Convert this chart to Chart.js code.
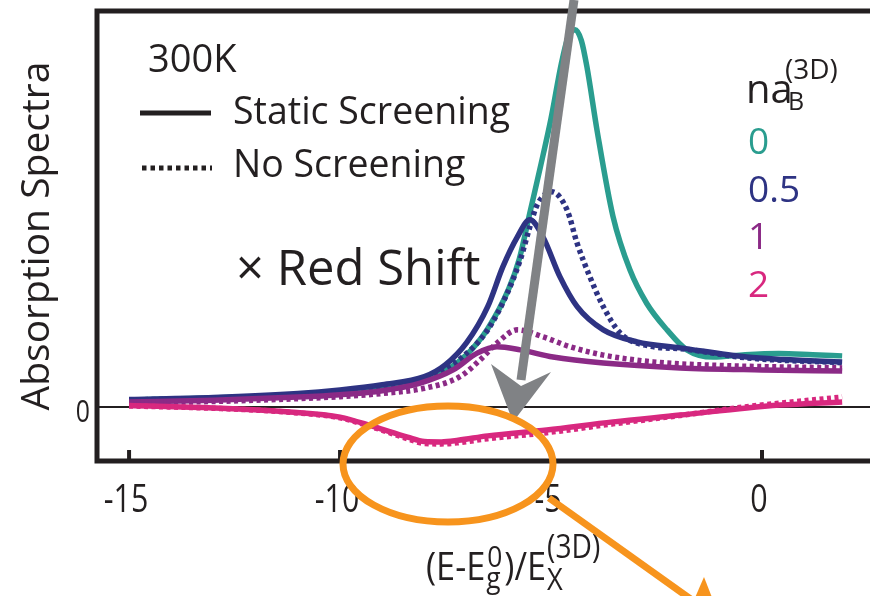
<!DOCTYPE html>
<html>
<head>
<meta charset="utf-8">
<script src="https://cdn.jsdelivr.net/npm/chart.js"></script>
<style>
  html, body { margin: 0; padding: 0; background: #fff; }
  #wrap { width: 870px; height: 596px; }
</style>
</head>
<body>
<div id="wrap"><canvas id="absChart" width="870" height="596"></canvas></div>
<script>
// x = (E - Eg0) / Ex(3D), y = absorption (arb. units)
const xTicks = [-15, -10, -5, 0];
const yTicks = [0];
const densityLabels = ['0', '0.5', '1', '2'];

// na_B = 0
const n0X = [-15, -13, -11, -10, -9, -8, -7.5, -7, -6.5, -6, -5.75, -5.5, -5.25, -5, -4.75, -4.6, -4.43, -4.28, -4.15, -3.9, -3.53, -3.13, -2.73, -2.25, -1.78, -1.16, -0.4, 0.4, 1.2, 1.9];
const n0Static = [0.17, 0.22, 0.3, 0.38, 0.5, 0.7, 0.9, 1.3, 1.95, 2.95, 3.7, 4.85, 6.0, 7.2, 8.6, 9.22, 9.42, 9.15, 8.5, 6.85, 4.75, 3.42, 2.58, 1.92, 1.42, 1.24, 1.3, 1.33, 1.3, 1.27];

// na_B = 0.5
const n05StaticX = [-15, -13, -11, -10, -9, -8, -7.5, -7, -6.5, -6.14, -5.8, -5.5, -5.19, -4.79, -4.38, -3.76, -2.96, -1.94, -0.36, 0.5, 1.9];
const n05Static = [0.18, 0.23, 0.33, 0.42, 0.55, 0.75, 1.05, 1.6, 2.5, 3.5, 4.24, 4.67, 4.24, 3.25, 2.5, 1.92, 1.62, 1.47, 1.24, 1.18, 1.12];
const n05NoneX = [-15, -13, -11, -10, -9, -8, -7.7, -7.1, -6.5, -6.04, -5.73, -5.5, -5.33, -4.98, -4.62, -4.38, -4.08, -3.76, -3.36, -2.58, -1.94, -0.36, 1.9];
const n05None = [0.17, 0.21, 0.3, 0.37, 0.48, 0.65, 0.84, 1.24, 1.92, 2.83, 3.67, 4.5, 5.04, 5.37, 4.92, 4.08, 3.25, 2.5, 1.84, 1.5, 1.45, 1.22, 1.1];

// na_B = 1
const n1StaticX = [-15, -13, -11, -10, -9, -8.1, -7.32, -6.75, -6.28, -5.73, -4.95, -3.76, -1.94, 0, 1.9];
const n1Static = [0.12, 0.16, 0.24, 0.3, 0.4, 0.59, 0.92, 1.34, 1.5, 1.42, 1.24, 1.09, 0.97, 0.92, 0.89];
const n1NoneX = [-15, -13, -11, -10, -9, -8, -7.16, -6.68, -6.28, -5.8, -5.2, -4.55, -3.76, -2.58, -1, 1.9];
const n1None = [0.1, 0.13, 0.2, 0.25, 0.33, 0.46, 0.75, 1.17, 1.59, 1.92, 1.75, 1.5, 1.29, 1.12, 1.03, 0.97];

// na_B = 2
const n2X = [-15, -13, -11.2, -10, -9.2, -8.4, -8.0, -7.6, -7.2, -6.5, -5.1, -3.53, -1.94, -0.36, 0.43, 1.9];
const n2Static = [0.03, -0.03, -0.13, -0.26, -0.5, -0.76, -0.87, -0.88, -0.84, -0.73, -0.58, -0.38, -0.21, -0.03, 0.04, 0.12];
const n2None = [0.02, -0.04, -0.14, -0.28, -0.52, -0.8, -0.92, -0.93, -0.9, -0.8, -0.65, -0.43, -0.22, 0.0, 0.09, 0.24];

const teal = '#2a9d8f';
const navy = '#2e3383';
const purple = '#8b2a86';
const pink = '#d8287f';
const ink = '#231f20';
const textFont = "'Open Sans', sans-serif";

const pts = (xs, ys) => xs.map((x, i) => ({ x: x, y: ys[i] }));

function curve(data, color, dotted, order) {
    return {
        data: data,
        borderColor: color,
        borderWidth: 5.5,
        borderDash: dotted ? [4, 3.5] : [],
        borderCapStyle: 'butt',
        pointRadius: 0,
        cubicInterpolationMode: 'monotone',
        fill: false,
        order: order
    };
}

// horizontally squeezed text, returns drawn width
function narrowText(ctx, text, x, y, size, align, squeeze) {
    ctx.save();
    ctx.font = size + 'px ' + textFont;
    const w = ctx.measureText(text).width * squeeze;
    const left = align === 'center' ? x - w / 2 : align === 'right' ? x - w : x;
    ctx.translate(left, y);
    ctx.scale(squeeze, 1);
    ctx.textAlign = 'left';
    ctx.textBaseline = 'alphabetic';
    ctx.fillText(text, 0, 0);
    ctx.restore();
    return w;
}

// frame, inside ticks, legend texts and the hand-drawn markings
const overlay = {
    id: 'overlay',
    afterDatasetsDraw(chart) {
        const { ctx, chartArea: a } = chart;
        const xs = chart.scales.x;
        const ys = chart.scales.y;
        ctx.save();

        ctx.strokeStyle = ink;
        ctx.lineWidth = 5;
        ctx.lineCap = 'butt';
        ctx.beginPath();
        ctx.moveTo(chart.width + 5, a.top);
        ctx.lineTo(a.left, a.top);
        ctx.lineTo(a.left, a.bottom);
        ctx.lineTo(chart.width + 5, a.bottom);
        ctx.stroke();

        // tick marks point inward, labels are condensed
        ctx.lineWidth = 4;
        ctx.fillStyle = ink;
        xs.ticks.forEach(t => {
            const px = xs.getPixelForValue(t.value);
            ctx.beginPath();
            ctx.moveTo(px, a.bottom);
            ctx.lineTo(px, a.bottom - 11);
            ctx.stroke();
            narrowText(ctx, String(t.value), px - 3, 512, 38, 'center', 0.8);
        });
        ys.ticks.forEach(t => {
            narrowText(ctx, String(t.value), 90, ys.getPixelForValue(t.value) + 15, 31, 'right', 0.8);
        });

        // x axis title
        const sq = 0.88;
        let cx = 426;
        cx += narrowText(ctx, '(E-E', cx, 580, 39, 'left', sq);
        const wg = narrowText(ctx, 'g', cx + 1, 588, 30, 'left', sq);
        narrowText(ctx, '0', cx + 2, 567, 30, 'left', sq);
        cx += Math.max(wg, 17) + 2;
        cx += narrowText(ctx, ')/E', cx, 580, 39, 'left', sq);
        narrowText(ctx, 'X', cx + 1, 590, 31, 'left', sq);
        narrowText(ctx, '(3D)', cx + 1, 558, 32, 'left', sq);

        // legend
        ctx.textBaseline = 'alphabetic';
        ctx.textAlign = 'left';
        ctx.font = '38px ' + textFont;
        ctx.fillText('300K', 148, 72);
        ctx.font = '37.5px ' + textFont;
        ctx.fillText('Static Screening', 233, 124);
        ctx.fillText('No Screening', 233, 177);
        ctx.beginPath();
        ctx.lineWidth = 5;
        ctx.moveTo(140, 113);
        ctx.lineTo(211, 113);
        ctx.stroke();
        ctx.setLineDash([4.5, 4]);
        ctx.beginPath();
        ctx.moveTo(142, 168);
        ctx.lineTo(212, 168);
        ctx.stroke();
        ctx.setLineDash([]);

        ctx.font = '49px ' + textFont;
        ctx.fillText('\u00d7 Red Shift', 236, 285);

        // density key
        ctx.font = '40px ' + textFont;
        ctx.fillText('na', 746, 103);
        ctx.font = '25px ' + textFont;
        ctx.fillText('B', 788, 110);
        ctx.font = '28px ' + textFont;
        ctx.fillText('(3D)', 785, 79);
        ctx.font = '37px ' + textFont;
        const keyColors = [teal, navy, purple, pink];
        densityLabels.forEach((t, i) => {
            ctx.fillStyle = keyColors[i];
            ctx.fillText(t, 748, 154 + i * 47.5);
        });

        // grey arrow
        ctx.fillStyle = '#808285';
        ctx.strokeStyle = '#808285';
        ctx.lineWidth = 9;
        ctx.beginPath();
        ctx.moveTo(574, 0);
        ctx.lineTo(521, 380);
        ctx.stroke();
        ctx.beginPath();
        ctx.moveTo(491, 364);
        ctx.lineTo(521, 386);
        ctx.lineTo(551, 372);
        ctx.lineTo(513, 422);
        ctx.closePath();
        ctx.fill();

        // orange ellipse and pointer
        ctx.strokeStyle = '#f7941d';
        ctx.fillStyle = '#f7941d';
        ctx.lineWidth = 7;
        ctx.beginPath();
        ctx.ellipse(448, 464, 105, 58, 0, 0, Math.PI * 2);
        ctx.stroke();
        ctx.beginPath();
        ctx.moveTo(549, 498);
        ctx.lineTo(692, 600);
        ctx.stroke();
        ctx.beginPath();
        ctx.moveTo(704, 577);
        ctx.lineTo(713, 600);
        ctx.lineTo(694, 600);
        ctx.closePath();
        ctx.fill();

        ctx.restore();
    }
};

new Chart(document.getElementById('absChart'), {
    type: 'line',
    data: {
        datasets: [
            curve(pts(n2X, n2None), pink, true, 1),
            curve(pts(n2X, n2Static), pink, false, 2),
            curve(pts(n1NoneX, n1None), purple, true, 3),
            curve(pts(n1StaticX, n1Static), purple, false, 4),
            curve(pts(n05NoneX, n05None), navy, true, 5),
            curve(pts(n05StaticX, n05Static), navy, false, 6),
            curve(pts(n0X, n0Static), teal, false, 7)
        ]
    },
    options: {
        responsive: false,
        animation: false,
        devicePixelRatio: 1,
        layout: { padding: { top: 11, right: 0, left: 0, bottom: 0 } },
        plugins: { legend: { display: false }, tooltip: { enabled: false } },
        scales: {
            x: {
                type: 'linear',
                min: -15.76,
                max: 2.56,
                afterBuildTicks: s => { s.ticks = xTicks.map(v => ({ value: v })); },
                afterFit: s => { s.height = 135; s.paddingLeft = 0; s.paddingRight = 0; },
                grid: { display: false, drawTicks: false },
                border: { display: false },
                ticks: { display: false }
            },
            y: {
                type: 'linear',
                min: -1.3575,
                max: 9.89,
                afterBuildTicks: s => { s.ticks = yTicks.map(v => ({ value: v })); },
                afterFit: s => { s.width = 97; s.paddingTop = 0; s.paddingBottom = 0; },
                grid: { color: ink, lineWidth: 2, drawTicks: false },
                border: { display: false },
                ticks: { display: false },
                title: {
                    display: true,
                    text: 'Absorption Spectra',
                    color: ink,
                    padding: { top: 14, bottom: 0 },
                    font: { family: textFont, size: 39, lineHeight: 1.2 }
                }
            }
        }
    },
    plugins: [overlay]
});
</script>
</body>
</html>
